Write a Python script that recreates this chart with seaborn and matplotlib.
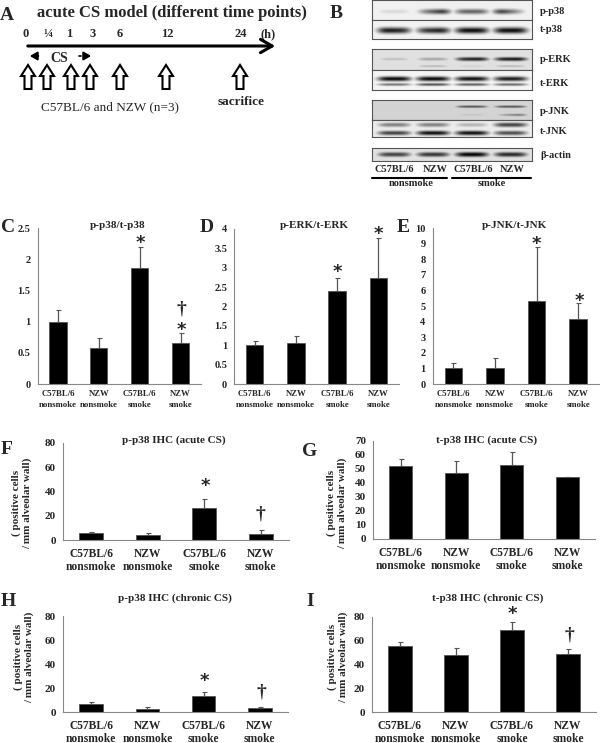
import numpy as np
import seaborn as sns
import matplotlib.pyplot as plt
from matplotlib.patches import Polygon

W, H = 600, 743

groups = ['C57BL/6\nnonsmoke', 'NZW\nnonsmoke', 'C57BL/6\nsmoke', 'NZW\nsmoke']

# panel values and top of error bar
c_vals = [1.0, 0.58, 1.86, 0.66]
c_tops = [1.18, 0.74, 2.19, 0.82]
d_vals = [1.0, 1.05, 2.41, 2.74]
d_tops = [1.10, 1.23, 2.74, 3.78]
e_vals = [1.0, 1.05, 5.35, 4.15]
e_tops = [1.35, 1.65, 8.8, 5.2]
f_vals = [5.5, 3.8, 26.5, 5.0]
f_tops = [7.0, 5.5, 33.5, 8.0]
g_vals = [52.5, 47.0, 53.0, 44.5]
g_tops = [57.5, 55.5, 62.0, 44.5]
h_vals = [6.5, 2.8, 13.0, 3.2]
h_tops = [8.0, 4.0, 16.5, 4.0]
i_vals = [56.0, 48.0, 69.0, 48.5]
i_tops = [59.0, 54.0, 75.5, 53.0]

c_ticks = [0, 0.5, 1, 1.5, 2, 2.5]
d_ticks = [0, 0.5, 1, 1.5, 2, 2.5, 3, 3.5, 4]
e_ticks = list(range(0, 11))
f_ticks = [0, 20, 40, 60, 80]
g_ticks = [0, 10, 20, 30, 40, 50, 60, 70]

time_labels = ['0', '¼', '1', '3', '6', '12', '24', '(h)']
blot_names = ['p-p38', 't-p38', 'p-ERK', 't-ERK', 'p-JNK', 't-JNK', 'β-actin']
blot_back = [0.06, 0.05, 0.12, 0.04, 0.17, 0.08, 0.12]
# bands of each strip: (row 0-1, half height, (left, right) darkness per lane)
blot_bands = [
    [(0.58, 0.14, [(0.15, 0.15), (0.3, 0.95), (0.6, 0.6), (0.95, 0.15)])],
    [(0.55, 0.17, [(0.95, 0.8), (0.7, 0.95), (0.95, 0.95), (0.95, 0.95)])],
    [(0.48, 0.1, [(0.25, 0.25), (0.35, 0.35), (0.8, 0.95), (0.85, 0.98)]),
     (0.82, 0.06, [(0.07, 0.07), (0.3, 0.3), (0.2, 0.2), (0.3, 0.3)])],
    [(0.44, 0.12, [(0.98, 0.98), (0.98, 0.98), (0.95, 0.95), (0.9, 0.9)]),
     (0.73, 0.07, [(0.55, 0.55), (0.7, 0.7), (0.65, 0.65), (0.6, 0.6)])],
    [(0.33, 0.07, [(0, 0), (0, 0), (0.7, 0.7), (0.7, 0.7)]),
     (0.75, 0.08, [(0, 0), (0, 0), (0.25, 0.25), (0.25, 0.65)])],
    [(0.28, 0.14, [(0.5, 0.5), (0.5, 0.5), (0.3, 0.3), (0.75, 0.75)]),
     (0.77, 0.14, [(0.75, 0.75), (0.95, 0.95), (0.95, 0.95), (0.7, 0.7)])],
    [(0.5, 0.2, [(0.75, 0.75), (0.8, 0.8), (1.0, 1.0), (0.85, 0.85)])],
]

sns.set_theme(style='white')
plt.rcParams['font.family'] = ['Liberation Serif', 'DejaVu Sans']
plt.rcParams['font.weight'] = 'bold'
plt.rcParams['axes.labelweight'] = 'bold'

fig = plt.figure(figsize=(W / 100, H / 100), dpi=100)


def px_axes(x0, y0, x1, y1):
    return fig.add_axes([x0 / W, 1 - y1 / H, (x1 - x0) / W, (y1 - y0) / H])


def bar_panel(box, vals, tops, ticks, xsize, ysize, spacing, pad):
    ax = px_axes(*box)
    sns.barplot(x=groups, y=vals, color='black', saturation=1, width=0.42,
                errorbar=None, edgecolor='#555555', linewidth=0.6, ax=ax)
    errs = [t - v for t, v in zip(tops, vals)]
    ax.errorbar(range(4), vals, yerr=[[0] * 4, errs], fmt='none', ecolor='#555555',
                elinewidth=0.9, capsize=1.8, capthick=0.8)
    ax.set_xlim(-0.5, 3.5)
    ax.set_ylim(ticks[0], ticks[-1])
    ax.set_yticks(ticks)
    ax.set_yticklabels([f'{t:g}' for t in ticks], fontsize=ysize)
    ax.set_xticks(range(4))
    ax.set_xticklabels(groups, fontsize=xsize, linespacing=spacing)
    ax.set_xticks([-0.5, 0.5, 1.5, 2.5, 3.5], minor=True)
    ax.tick_params(axis='x', which='major', length=0, pad=pad)
    ax.tick_params(axis='x', which='minor', length=3, width=0.7, color='#888888')
    ax.tick_params(axis='y', length=3, width=0.7, color='#888888', pad=2)
    sns.despine(ax=ax)
    for side in ['left', 'bottom']:
        ax.spines[side].set_color('#888888')
        ax.spines[side].set_linewidth(0.8)
    ax.set_xlabel('')
    ax.set_ylabel('')
    return ax


bar_panel((37.5, 228, 201, 384), c_vals, c_tops, c_ticks, 6.3, 7.5, 1.4, 4.5)
bar_panel((234, 229, 399, 384), d_vals, d_tops, d_ticks, 6.3, 7.5, 1.4, 4.5)
bar_panel((432.5, 228, 599, 384), e_vals, e_tops, e_ticks, 6.3, 7.5, 1.4, 4.5)
bar_panel((63, 443, 289, 540), f_vals, f_tops, f_ticks, 8.3, 8, 1.1, 5.5)
bar_panel((373, 441, 595, 539), g_vals, g_tops, g_ticks, 8.3, 8, 1.1, 5.5)
bar_panel((63, 616, 288, 712), h_vals, h_tops, f_ticks, 8.3, 8, 1.1, 5.5)
bar_panel((372, 617, 596, 712), i_vals, i_tops, f_ticks, 8.3, 8, 1.1, 5.5)

# western blot strips
blot_boxes = [(0, 20), (20, 39), (49, 70), (70, 90), (100, 120), (120, 137), (148, 161)]
lane_x = np.array([22, 61, 100, 139]) / 160
xx = np.linspace(0, 1, 160)
for (y0, y1), bands, back in zip(blot_boxes, blot_bands, blot_back):
    ax = px_axes(372, y0, 532, y1)
    yy = np.linspace(0, 1, 3 * (y1 - y0))
    img = np.full((yy.size, xx.size), back)
    for row, half, dark in bands:
        for cx, (left, right) in zip(lane_x, dark):
            slope = np.interp(xx, [cx - 0.105, cx + 0.105], [left, right])
            band = (slope * np.exp(-((xx - cx) / 0.105) ** 4))[None, :] * np.exp(-((yy - row) / half) ** 2)[:, None]
            img = np.maximum(img, band)
    ax.imshow(1 - img, cmap='gray', vmin=0, vmax=1, aspect='auto', interpolation='bilinear')
    ax.set_xticks([])
    ax.set_yticks([])
    for s in ax.spines.values():
        s.set_color('#555555')
        s.set_linewidth(0.8)

# overlay in pixel coordinates for all the annotation text
ov = fig.add_axes([0, 0, 1, 1], zorder=10)
ov.set_xlim(0, W)
ov.set_ylim(H, 0)
ov.axis('off')
ov.patch.set_alpha(0)


def txt(x, y, s, size=8, ha='center', weight='bold', **kw):
    ov.text(x, y, s, fontsize=size, ha=ha, va='center', fontweight=weight, **kw)


for x, y, s in [(7, 15, 'A'), (336, 14, 'B'), (8, 228, 'C'), (207, 228, 'D'), (403, 228, 'E'),
                (7, 449, 'F'), (310, 451, 'G'), (8, 601, 'H'), (310, 601, 'I')]:
    txt(x, y, s, size=14)

txt(172, 13, 'acute CS model (different time points)', size=12)
for x, s in zip([26, 48, 69, 93, 120, 167, 241, 268], time_labels):
    txt(x, 34, s, size=9)
ov.annotate('', xy=(278, 46), xytext=(25, 46),
            arrowprops=dict(arrowstyle='->,head_width=0.4,head_length=0.7', lw=2.2, color='black'))
ov.annotate('', xy=(27, 56), xytext=(41, 56),
            arrowprops=dict(arrowstyle='-|>,head_width=0.2,head_length=0.35', lw=1.5, color='black'))
ov.annotate('', xy=(94, 56), xytext=(83, 56),
            arrowprops=dict(arrowstyle='-|>,head_width=0.2,head_length=0.35', lw=1.5, color='black'))
ov.plot([79, 81], [56, 56], color='black', lw=1.2)
txt(59, 58, 'CS', size=10)
for x in [28, 47, 71, 90, 120, 166, 240]:
    top, bot = 65, 89
    ov.add_patch(Polygon([(x, top), (x + 7, top + 11), (x + 3.5, top + 11), (x + 3.5, bot), (x - 3.5, bot),
                          (x - 3.5, top + 11), (x - 7, top + 11)], closed=True,
                         fill=False, edgecolor='black', lw=1.5))
txt(110, 107, 'C57BL/6 and NZW (n=3)', size=9.5, weight='normal')
txt(241, 102, 'sacrifice', size=9.5)

for y, s in zip([12, 30, 60, 84, 112, 132, 156], blot_names):
    txt(540, y, s, size=7.5, ha='left')
for x, s in zip([394, 435, 473, 512], ['C57BL/6', 'NZW', 'C57BL/6', 'NZW']):
    txt(x, 169, s, size=7.5)
ov.plot([372, 447], [178, 178], color='black', lw=1.5)
ov.plot([452, 531], [178, 178], color='black', lw=1.5)
txt(411, 184, 'nonsmoke', size=7.5)
txt(492, 184, 'smoke', size=7.5)

txt(118, 225, 'p-p38/t-p38', size=8)
txt(314, 225, 'p-ERK/t-ERK', size=8)
txt(514, 225, 'p-JNK/t-JNK', size=8)
txt(174, 440, 'p-p38 IHC (acute CS)', size=8)
txt(487, 440, 't-p38 IHC (acute CS)', size=8)
txt(175, 598, 'p-p38 IHC (chronic CS)', size=8)
txt(488, 598, 't-p38 IHC (chronic CS)', size=8)

# y titles on the lower panels
for x, y in [(22, 503), (336.5, 503), (24, 657), (338, 657)]:
    txt(x, y, '( positive cells\n/ mm alveolar wall)', size=8, rotation=90, linespacing=1.25, multialignment='center')

# significance marks
for x, y in [(140, 240), (181, 327), (337, 269), (378, 231), (536.5, 241), (579, 298),
             (205, 483), (204, 678), (512, 611)]:
    txt(x, y + 3, '*', size=13, family='DejaVu Sans')
for x, y in [(181, 309), (260, 514), (261, 692), (569, 635)]:
    txt(x, y, '†', size=14)

fig.savefig('out.png', dpi=100, facecolor='white')
